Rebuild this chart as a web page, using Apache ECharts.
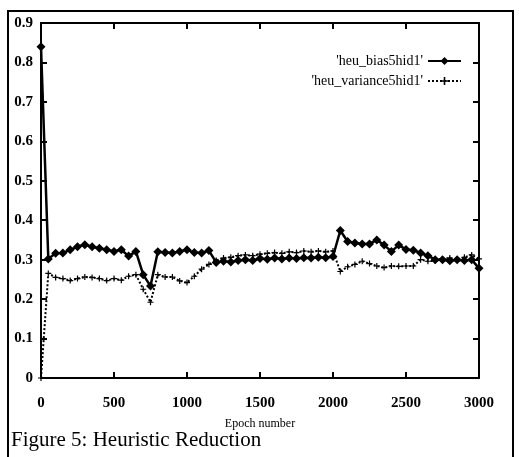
<!DOCTYPE html>
<html>
<head>
<meta charset="utf-8">
<script src="https://cdn.jsdelivr.net/npm/echarts@6/dist/echarts.min.js"></script>
<style>
  html, body { margin: 0; padding: 0; background: #fff; }
  #main { width: 519px; height: 457px; }
</style>
</head>
<body>
<div id="main"></div>
<script>
// epochs sampled every 50
const epochs = [0, 50, 100, 150, 200, 250, 300, 350, 400, 450, 500, 550, 600, 650, 700, 750,
  800, 850, 900, 950, 1000, 1050, 1100, 1150, 1200, 1250, 1300, 1350, 1400, 1450, 1500,
  1550, 1600, 1650, 1700, 1750, 1800, 1850, 1900, 1950, 2000, 2050, 2100, 2150, 2200,
  2250, 2300, 2350, 2400, 2450, 2500, 2550, 2600, 2650, 2700, 2750, 2800, 2850, 2900,
  2950, 3000]

const biasValues = [0.84, 0.302, 0.316, 0.317, 0.325, 0.333, 0.338, 0.333, 0.329, 0.325,
  0.321, 0.325, 0.309, 0.321, 0.262, 0.233, 0.320, 0.318, 0.317, 0.321, 0.325, 0.318,
  0.317, 0.323, 0.293, 0.296, 0.294, 0.298, 0.300, 0.298, 0.303, 0.301, 0.304, 0.302,
  0.304, 0.303, 0.305, 0.304, 0.306, 0.305, 0.308, 0.374, 0.346, 0.342, 0.340, 0.340,
  0.350, 0.337, 0.321, 0.337, 0.326, 0.324, 0.317, 0.310, 0.300, 0.300, 0.297, 0.300,
  0.298, 0.300, 0.278]

const varianceValues = [0.0, 0.265, 0.255, 0.252, 0.247, 0.252, 0.256, 0.255, 0.252, 0.247,
  0.252, 0.248, 0.258, 0.262, 0.225, 0.192, 0.262, 0.256, 0.256, 0.246, 0.242, 0.258,
  0.276, 0.288, 0.298, 0.304, 0.306, 0.310, 0.312, 0.310, 0.314, 0.316, 0.318, 0.316,
  0.320, 0.318, 0.322, 0.320, 0.322, 0.320, 0.322, 0.270, 0.282, 0.288, 0.296, 0.290,
  0.284, 0.280, 0.284, 0.283, 0.284, 0.284, 0.300, 0.296, 0.297, 0.302, 0.304, 0.300,
  0.306, 0.312, 0.302]

const seriesNames = ["'heu_bias5hid1'", "'heu_variance5hid1'"]
const caption = 'Figure 5: Heuristic Reduction'

const serif = '"Liberation Serif", "DejaVu Serif", serif'
const plus = 'path://M4,0 L6,0 L6,4 L10,4 L10,6 L6,6 L6,10 L4,10 L4,6 L0,6 L0,4 L4,4 Z'

const pairs = vals => epochs.map((e, i) => [e, vals[i]])

const chart = echarts.init(document.getElementById('main'), null, { renderer: 'canvas' })

const axisLine = { show: true, onZero: false, lineStyle: { color: '#000', width: 2 } }
const tick = { show: true, inside: true, length: 6, lineStyle: { color: '#000', width: 2 } }

const option = {
  backgroundColor: '#fff',
  animation: false,
  title: {
    text: caption,
    left: 11,
    top: 430,
    padding: 0,
    textStyle: { fontFamily: serif, fontSize: 21, fontWeight: 'normal', color: '#000' }
  },
  // outer frame round the figure
  graphic: [{
    type: 'rect',
    shape: { x: 8, y: 11, width: 505, height: 470 },
    style: { fill: 'none', stroke: '#000', lineWidth: 2 },
    silent: true
  }],
  legend: {
    orient: 'vertical',
    right: 52,
    top: 49,
    align: 'right',
    itemWidth: 33,
    itemHeight: 10,
    itemGap: 6,
    textStyle: { fontFamily: serif, fontSize: 14, color: '#000' },
    data: seriesNames
  },
  grid: { left: 41, right: 40, top: 23, bottom: 79, containLabel: false },
  xAxis: [{
    type: 'value',
    min: 0,
    max: 3000,
    interval: 500,
    name: 'Epoch number',
    nameLocation: 'middle',
    nameGap: 40,
    nameTextStyle: { fontFamily: serif, fontSize: 12, color: '#000' },
    axisLine: axisLine,
    axisTick: tick,
    splitLine: { show: false },
    axisLabel: {
      margin: 18, fontFamily: serif, fontSize: 15, fontWeight: 'bold', color: '#000',
      formatter: v => String(v)
    }
  }, {
    type: 'value',
    position: 'top',
    min: 0,
    max: 3000,
    interval: 500,
    axisLine: axisLine,
    axisTick: tick,
    splitLine: { show: false },
    axisLabel: { show: false }
  }],
  yAxis: [{
    type: 'value',
    min: 0,
    max: 0.9,
    interval: 0.1,
    axisLine: axisLine,
    axisTick: tick,
    splitLine: { show: false },
    axisLabel: { margin: 8, fontFamily: serif, fontSize: 15, fontWeight: 'bold', color: '#000' }
  }, {
    type: 'value',
    position: 'right',
    min: 0,
    max: 0.9,
    interval: 0.1,
    axisLine: axisLine,
    axisTick: tick,
    splitLine: { show: false },
    axisLabel: { show: false }
  }],
  series: [{
    name: seriesNames[0],
    type: 'line',
    data: pairs(biasValues),
    symbol: 'diamond',
    symbolSize: 9,
    showAllSymbol: true,
    itemStyle: { color: '#000' },
    lineStyle: { color: '#000', width: 2.5 }
  }, {
    name: seriesNames[1],
    type: 'line',
    data: pairs(varianceValues),
    symbol: plus,
    symbolSize: 6,
    showAllSymbol: true,
    itemStyle: { color: '#000' },
    lineStyle: { color: '#000', width: 2, type: [2, 2] }
  }, {
    // empty series so the top and right axes get drawn with ticks
    type: 'line',
    xAxisIndex: 1,
    yAxisIndex: 1,
    data: [],
    silent: true
  }]
}

chart.setOption(option)
</script>
</body>
</html>
